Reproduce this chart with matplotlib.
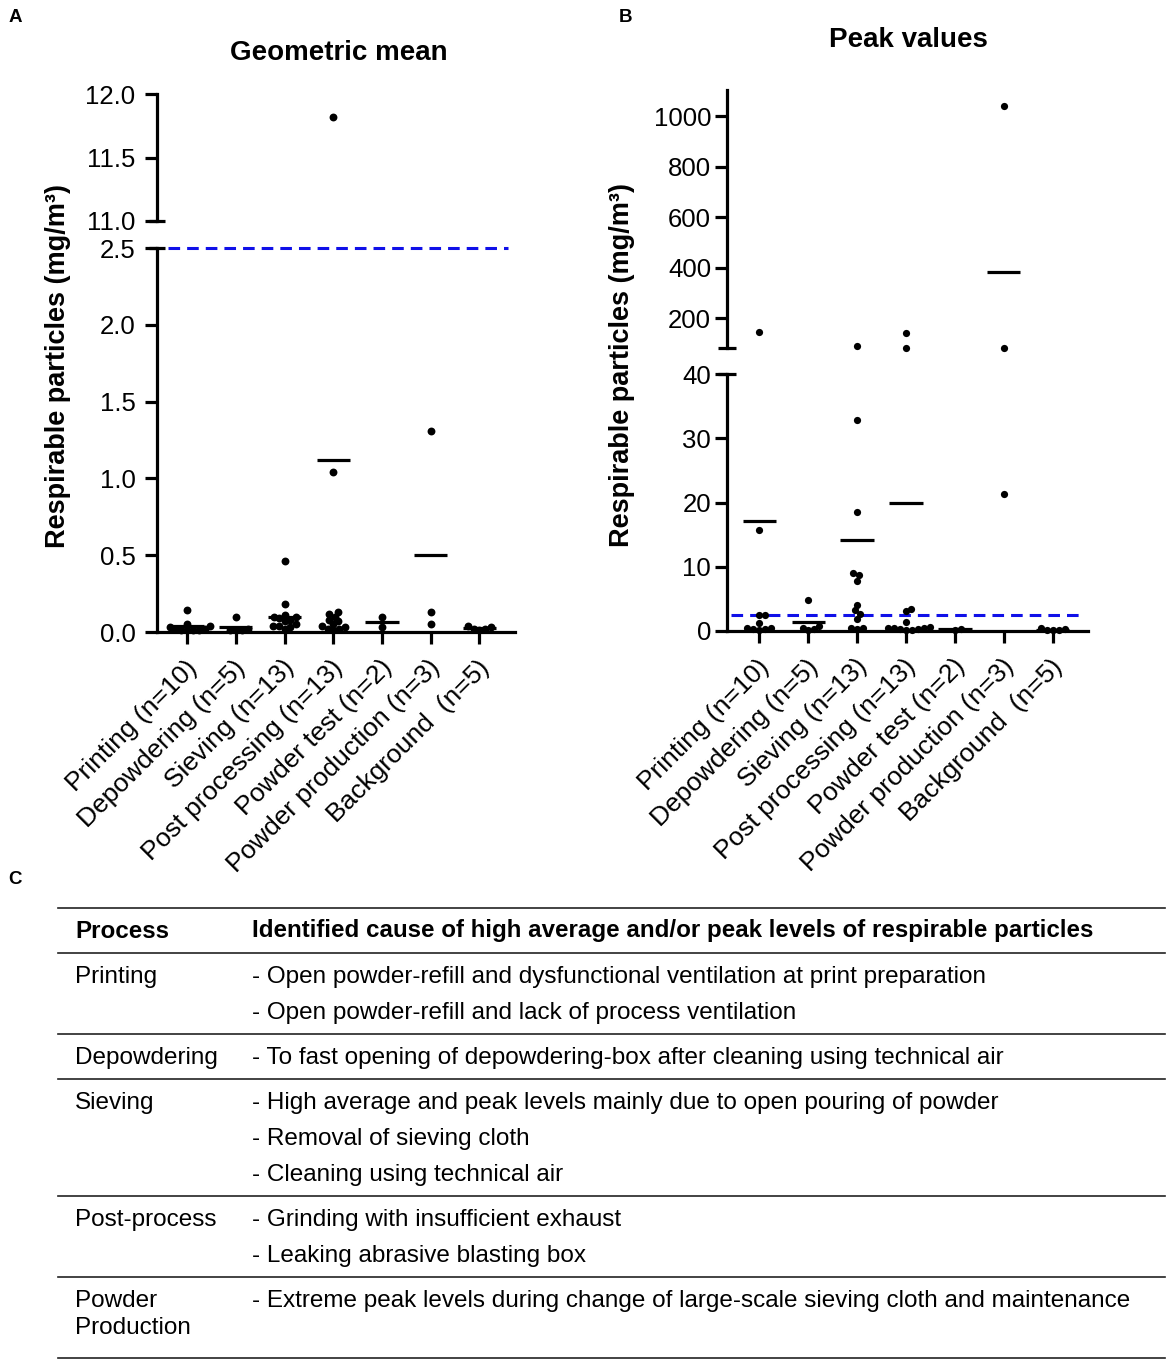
import numpy as np
import matplotlib
matplotlib.use('Agg')
import matplotlib.pyplot as plt
from matplotlib.lines import Line2D
from matplotlib.transforms import ScaledTranslation

plt.rcParams['font.family'] = ['Liberation Sans', 'DejaVu Sans']

W, H = 1170, 1365

# ---------------- data ----------------
categories = ['Printing (n=10)', 'Depowdering (n=5)', 'Sieving (n=13)',
              'Post processing (n=13)', 'Powder test (n=2)',
              'Powder production (n=3)', 'Background  (n=5)']

# A: geometric mean per measurement (mg/m3)
gm_printing = [0.14, 0.05, 0.04, 0.03, 0.02, 0.02, 0.01, 0.01, 0.01, 0.01]
gm_depowdering = [0.10, 0.02, 0.01, 0.01, 0.01]
gm_sieving = [0.46, 0.18, 0.11, 0.10, 0.10, 0.09, 0.08, 0.07, 0.05, 0.04, 0.04, 0.03, 0.02]
gm_post = [11.82, 1.04, 0.13, 0.12, 0.10, 0.08, 0.07, 0.05, 0.04, 0.03, 0.02, 0.02, 0.01]
gm_powder_test = [0.10, 0.03]
gm_powder_prod = [1.31, 0.13, 0.05]
gm_background = [0.04, 0.03, 0.02, 0.02, 0.01]
gm_means = [0.04, 0.03, 0.10, 1.12, 0.065, 0.50, 0.025]

# B: peak values per measurement (mg/m3)
pk_printing = [146, 15.7, 2.5, 2.5, 1.3, 0.5, 0.4, 0.3, 0.3, 0.2]
pk_depowdering = [4.8, 0.8, 0.5, 0.3, 0.2]
pk_sieving = [92, 32.8, 18.5, 9.0, 8.7, 7.8, 4.1, 3.2, 2.7, 1.9, 0.5, 0.4, 0.3]
pk_post = [142, 83, 3.5, 3.1, 1.4, 0.7, 0.5, 0.4, 0.4, 0.3, 0.3, 0.2, 0.2]
pk_powder_test = [0.3, 0.2]
pk_powder_prod = [1041, 83, 21.4]
pk_background = [0.4, 0.3, 0.2, 0.2, 0.1]
pk_means = [17.1, 1.4, 14.1, 19.9, 0.25, 382, 0.2]

limit_value = 2.5  # occupational limit, dashed line

gm_values = [gm_printing, gm_depowdering, gm_sieving, gm_post,
             gm_powder_test, gm_powder_prod, gm_background]
pk_values = [pk_printing, pk_depowdering, pk_sieving, pk_post,
             pk_powder_test, pk_powder_prod, pk_background]

# C: table
table_header = ['Process', 'Identified cause of high average and/or peak levels of respirable particles']
table_process = [['Printing'], ['Depowdering'], ['Sieving'], ['Post-process'], ['Powder', 'Production']]
table_causes = [
    ['- Open powder-refill and dysfunctional ventilation at print preparation',
     '- Open powder-refill and lack of process ventilation'],
    ['- To fast opening of depowdering-box after cleaning using technical air'],
    ['- High average and peak levels mainly due to open pouring of powder',
     '- Removal of sieving cloth',
     '- Cleaning using technical air'],
    ['- Grinding with insufficient exhaust',
     '- Leaking abrasive blasting box'],
    ['- Extreme peak levels during change of large-scale sieving cloth and maintenance'],
]


def px_box(x0, y0, x1, y1):
    # pixel box (top-left origin) -> figure fraction rect
    return [x0 / W, 1 - y1 / H, (x1 - x0) / W, (y1 - y0) / H]


def swarm_x(ax, xc, vals, d_px):
    vals = np.asarray(vals, dtype=float)
    ys = ax.transData.transform(np.column_stack([np.full(len(vals), xc), vals]))[:, 1]
    offs = np.zeros(len(vals))
    placed = []
    for i in np.argsort(ys, kind='stable'):
        y = ys[i]
        cands = [0.0]
        for px, py in placed:
            dy = y - py
            if abs(dy) < d_px:
                dx = np.sqrt(d_px ** 2 - dy ** 2)
                cands += [px + dx, px - dx]
        cands.sort(key=abs)
        for c in cands:
            if all((c - px) ** 2 + (y - py) ** 2 >= d_px ** 2 - 1e-6 for px, py in placed):
                offs[i] = c
                break
        placed.append((offs[i], y))
    p0 = ax.transData.transform([[0, 0], [1, 0]])
    return xc + offs / (p0[1, 0] - p0[0, 0])


LW = 2.3
TICK = 18.5
CAT = 19


def style_axis(ax, top_part, ypad):
    for s in ['top', 'right']:
        ax.spines[s].set_visible(False)
    ax.spines['left'].set_linewidth(LW)
    ax.spines['bottom'].set_linewidth(LW)
    ax.tick_params(axis='y', length=8.5, width=LW, pad=ypad, labelsize=TICK)
    if top_part:
        ax.spines['bottom'].set_visible(False)
        ax.tick_params(axis='x', bottom=False, labelbottom=False)
    else:
        ax.tick_params(axis='x', length=8.5, width=LW, pad=11, labelsize=CAT)
    ax.set_facecolor('none')


def cap(ax, yfrac, half):
    ax.plot([-half, half], [yfrac, yfrac], transform=ax.transAxes, color='k',
            lw=LW, clip_on=False, solid_capstyle='butt')


def draw_panel(ax_lo, ax_hi, values, means, lo_max, dot_px, s):
    x = np.arange(len(categories))
    for i, vals in enumerate(values):
        vals = np.asarray(vals, dtype=float)
        lo = vals[vals <= lo_max]
        hi = vals[vals > lo_max]
        if len(lo):
            ax_lo.scatter(swarm_x(ax_lo, x[i], lo, dot_px), lo, s=s, color='k',
                          linewidths=0, clip_on=False, zorder=3)
        if len(hi):
            ax_hi.scatter(swarm_x(ax_hi, x[i], hi, dot_px), hi, s=s, color='k',
                          linewidths=0, clip_on=False, zorder=3)
        target = ax_lo if means[i] <= lo_max else ax_hi
        target.plot([x[i] - 0.34, x[i] + 0.34], [means[i], means[i]], color='k',
                    lw=LW, solid_capstyle='butt', zorder=4)
    ax_lo.set_xticks(x)
    labels = ax_lo.set_xticklabels(categories, rotation=45, ha='right', va='center',
                                   rotation_mode='anchor')
    shift = ScaledTranslation(6 / 100, -5 / 100, fig.dpi_scale_trans)
    for lab in labels:
        lab.set_transform(lab.get_transform() + shift)


fig = plt.figure(figsize=(W / 100, H / 100), dpi=100)

# ---------------- panel A ----------------
axA_hi = fig.add_axes(px_box(157, 94, 515, 221))
axA_lo = fig.add_axes(px_box(157, 248, 515, 632))
for ax in (axA_hi, axA_lo):
    ax.set_xlim(-0.62, 6.73)
axA_hi.set_ylim(11.0, 12.0)
axA_lo.set_ylim(0, 2.5)
axA_hi.set_yticks([11.0, 11.5, 12.0])
axA_lo.set_yticks([0, 0.5, 1.0, 1.5, 2.0, 2.5])
axA_hi.yaxis.set_major_formatter('{x:.1f}')
axA_lo.yaxis.set_major_formatter('{x:.1f}')
style_axis(axA_hi, True, 7)
style_axis(axA_lo, False, 7)
cap(axA_hi, 0, 0.022)
cap(axA_lo, 1, 0.022)
draw_panel(axA_lo, axA_hi, gm_values, gm_means, 2.5, 6.0, 32)
axA_lo.axhline(limit_value, xmin=0.03, xmax=0.98, color='#1010e8', lw=2.2,
               linestyle=(0, (3.8, 2.3)), clip_on=False, zorder=2)

# ---------------- panel B ----------------
axB_hi = fig.add_axes(px_box(727, 90, 1088, 348))
axB_lo = fig.add_axes(px_box(727, 374, 1088, 631))
for ax in (axB_hi, axB_lo):
    ax.set_xlim(-0.66, 6.72)
axB_hi.set_ylim(82.6, 1103)
axB_lo.set_ylim(0, 40)
axB_hi.set_yticks([200, 400, 600, 800, 1000])
axB_lo.set_yticks([0, 10, 20, 30, 40])
style_axis(axB_hi, True, 3)
style_axis(axB_lo, False, 3)
cap(axB_hi, 0, 0.025)
cap(axB_lo, 1, 0.025)
draw_panel(axB_lo, axB_hi, pk_values, pk_means, 40, 6.0, 27)
axB_lo.axhline(limit_value, xmin=0.01, xmax=0.98, color='#1010e8', lw=2.2,
               linestyle=(0, (3.8, 2.3)), zorder=2)

# titles, labels, panel letters
fig.text(339 / W, 1 - 53 / H, 'Geometric mean', ha='center', va='center',
         fontsize=20, fontweight='bold')
fig.text(908 / W, 1 - 40 / H, 'Peak values', ha='center', va='center',
         fontsize=20, fontweight='bold')
for xp, yp in [(58, 366), (622, 365)]:
    fig.text(xp / W, 1 - yp / H, 'Respirable particles (mg/m³)', rotation=90,
             ha='center', va='center', fontsize=19.5, fontweight='bold')
for letter, xp, yp in [('A', 9, 18), ('B', 619, 18), ('C', 8, 880)]:
    fig.text(xp / W, 1 - yp / H, letter, ha='left', va='center',
             fontsize=13.5, fontweight='bold')

# ---------------- panel C: table ----------------
TX0, TX1 = 58, 1165
COL1, COL2 = 75, 252
TFS = 17.45


def hline(yp):
    fig.add_artist(Line2D([TX0 / W, TX1 / W], [1 - yp / H, 1 - yp / H],
                          color='#222222', lw=1.2))


y = 908
hline(y)
fig.text(COL1 / W, 1 - (y + 23) / H, table_header[0], ha='left', va='center',
         fontsize=TFS - 0.1, fontweight='bold')
fig.text(COL2 / W, 1 - (y + 23) / H, table_header[1], ha='left', va='center',
         fontsize=TFS - 0.1, fontweight='bold')
y = 953
hline(y)
for proc, causes in zip(table_process, table_causes):
    yt = y + 24
    for k, p in enumerate(proc):
        fig.text(COL1 / W, 1 - (yt + 27 * k) / H, p, ha='left', va='center', fontsize=TFS)
    for k, c in enumerate(causes):
        fig.text(COL2 / W, 1 - (yt + 36 * k) / H, c, ha='left', va='center', fontsize=TFS)
    n = max(len(causes), len(proc))
    y = y + 45 + 36 * (n - 1)
    hline(y)

fig.savefig('out.png', dpi=100)
